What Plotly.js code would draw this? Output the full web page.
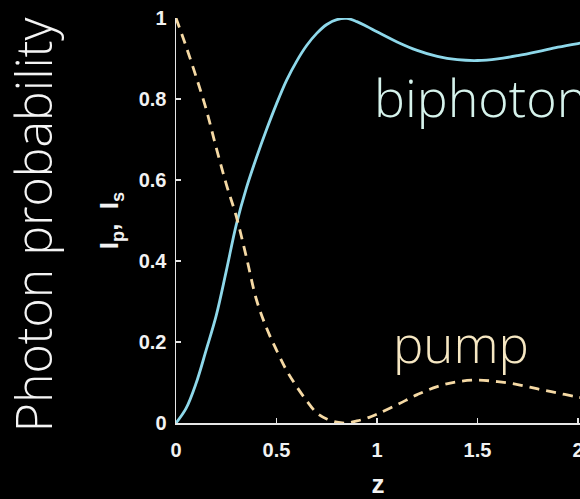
<!DOCTYPE html>
<html>
<head>
<meta charset="utf-8">
<script src="https://cdn.plot.ly/plotly-3.0.1.min.js"></script>
<style>html,body{margin:0;padding:0;background:#000;}#chart{width:580px;height:499px;}</style>
</head>
<body>
<div id="chart"></div>
<script>
const zValues = [0, 0.05, 0.1, 0.15, 0.2, 0.25, 0.3, 0.35, 0.4, 0.45, 0.5, 0.55, 0.6, 0.65, 0.7, 0.75, 0.8, 0.85, 0.9, 0.95, 1.0, 1.1, 1.2, 1.3, 1.4, 1.5, 1.6, 1.7, 1.8, 1.9, 2.0, 2.05];
const biphoton = [0, 0.036, 0.098, 0.18, 0.265, 0.375, 0.49, 0.58, 0.655, 0.724, 0.788, 0.846, 0.893, 0.932, 0.962, 0.984, 0.996, 0.999, 0.991, 0.979, 0.966, 0.941, 0.92, 0.905, 0.897, 0.895, 0.899, 0.907, 0.917, 0.928, 0.937, 0.941];
const pump = [1.0, 0.93, 0.855, 0.775, 0.68, 0.59, 0.51, 0.41, 0.305, 0.235, 0.18, 0.13, 0.09, 0.055, 0.025, 0.01, 0.002, 0.0, 0.005, 0.012, 0.022, 0.045, 0.07, 0.09, 0.102, 0.106, 0.102, 0.095, 0.084, 0.074, 0.064, 0.06];
const xTicks = [0, 0.5, 1, 1.5, 2];
const xTickText = ['0', '0.5', '1', '1.5', '2'];
const yTicks = [0, 0.2, 0.4, 0.6, 0.8, 1];
const yTickText = ['0', '0.2', '0.4', '0.6', '0.8', '1'];
const labelBiphoton = 'biphoton';
const labelPump = 'pump';
const sideLabel = 'Photon probability';
const xTitle = 'z';
const yTitle = 'I<sub>p</sub>,&nbsp;&nbsp;I<sub>s</sub>';

const traces = [
  {x: zValues, y: biphoton, mode: 'lines', line: {color: '#8ed8ea', width: 2.8, shape: 'spline', smoothing: 1}, hoverinfo: 'skip'},
  {x: zValues, y: pump, mode: 'lines', line: {color: '#f5d9a4', width: 2.8, dash: '10px,7px', shape: 'spline', smoothing: 1}, hoverinfo: 'skip'}
];

const tickFont = {family: 'Liberation Sans, Arial, sans-serif', size: 20, color: '#f2f2f2', weight: 'bold'};
const titleFont = {family: 'Liberation Sans, Arial, sans-serif', size: 26, color: '#f2f2f2', weight: 'bold'};
const decoFont = (c, s) => ({family: 'Open Sans, sans-serif', size: s, color: c, weight: 300});

const layout = {
  width: 580, height: 499,
  margin: {l: 176, r: 0, t: 18, b: 76},
  paper_bgcolor: '#000', plot_bgcolor: '#000',
  showlegend: false,
  xaxis: {
    range: [0, 2.01], tickvals: xTicks, ticktext: xTickText,
    showgrid: false, zeroline: false, showline: true, linecolor: '#e6e6e6', linewidth: 1.5,
    ticks: 'inside', ticklen: 5, tickcolor: '#e6e6e6', tickwidth: 1.2,
    tickfont: tickFont, ticklabeloverflow: 'allow', ticklabelstandoff: 8,
    title: {text: xTitle, font: titleFont, standoff: 15}
  },
  yaxis: {
    range: [0, 1], tickvals: yTicks, ticktext: yTickText,
    showgrid: false, zeroline: false, showline: true, linecolor: '#e6e6e6', linewidth: 1.5,
    ticks: 'inside', ticklen: 5, tickcolor: '#e6e6e6', tickwidth: 1.2,
    tickfont: tickFont, ticklabeloverflow: 'allow', ticklabelstandoff: 4,
    title: {text: yTitle, font: titleFont, standoff: 12}
  },
  annotations: [
    {xref: 'x', yref: 'y', x: 0.975, y: 0.805, xanchor: 'left', yanchor: 'middle', text: labelBiphoton, showarrow: false, font: decoFont('#d6f3ec', 52)},
    {xref: 'x', yref: 'y', x: 1.068, y: 0.197, xanchor: 'left', yanchor: 'middle', text: labelPump, showarrow: false, font: decoFont('#f6e7c2', 51)},
    {xref: 'paper', yref: 'paper', x: -0.353, y: 0.489, xanchor: 'center', yanchor: 'middle', textangle: -90, text: sideLabel, showarrow: false, font: decoFont('#f4f4f4', 50)}
  ]
};

Plotly.newPlot('chart', traces, layout, {displayModeBar: false, staticPlot: true});
</script>
</body>
</html>
